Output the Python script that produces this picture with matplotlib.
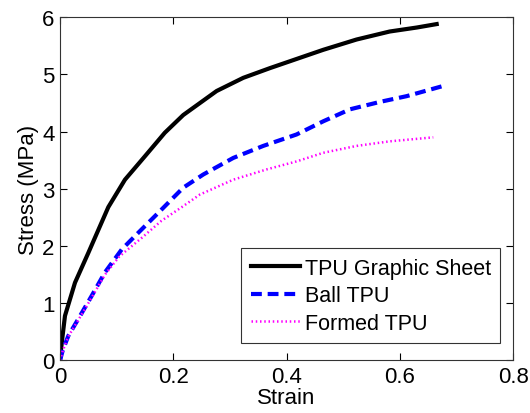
import matplotlib
matplotlib.use("Agg")
import matplotlib.pyplot as plt

plt.rcParams['font.family'] = ['Liberation Sans', 'DejaVu Sans']

sheet_strain = [0, 0.003, 0.0088, 0.0265, 0.050, 0.0588, 0.0853, 0.1147, 0.150, 0.185, 0.2176,
                0.2765, 0.3235, 0.3706, 0.4235, 0.4647, 0.5235, 0.582, 0.630, 0.665]
sheet_stress = [0, 0.30, 0.78, 1.36, 1.88, 2.08, 2.68, 3.16, 3.57, 3.98, 4.29,
                4.71, 4.94, 5.11, 5.29, 5.43, 5.61, 5.75, 5.82, 5.88]

ball_strain = [0, 0.005, 0.0147, 0.032, 0.056, 0.0794, 0.109, 0.138, 0.1735, 0.2176, 0.2529,
               0.3059, 0.3588, 0.4176, 0.4647, 0.512, 0.565, 0.612, 0.6735]
ball_stress = [0, 0.18, 0.43, 0.72, 1.13, 1.54, 1.94, 2.23, 2.58, 3.02, 3.25,
               3.54, 3.75, 3.95, 4.18, 4.39, 4.52, 4.62, 4.79]

formed_strain = [0, 0.005, 0.0147, 0.032, 0.056, 0.0794, 0.105, 0.144, 0.179, 0.215, 0.247,
                 0.306, 0.365, 0.418, 0.4647, 0.5235, 0.582, 0.659]
formed_stress = [0, 0.17, 0.42, 0.70, 1.10, 1.50, 1.82, 2.14, 2.44, 2.68, 2.90,
                 3.16, 3.34, 3.48, 3.63, 3.75, 3.83, 3.90]

labels = ['TPU Graphic Sheet', 'Ball TPU', 'Formed TPU']
xticks = [0, 0.2, 0.4, 0.6, 0.8]
yticks = [0, 1, 2, 3, 4, 5, 6]

fig = plt.figure(figsize=(5.3, 4.14), dpi=100)
ax = fig.add_axes([0.1132, 0.127, 0.855, 0.829])

ax.plot(sheet_strain, sheet_stress, color='black', lw=3.0, label=labels[0])
ax.plot(ball_strain, ball_stress, color='#0000ff', lw=3.0, ls=(0, (2.6, 1.4)), label=labels[1])
ax.plot(formed_strain, formed_stress, color='#ff00ff', lw=1.8, ls=(0, (0.6, 1.1)), label=labels[2])

ax.set_xlim(0, 0.8)
ax.set_ylim(0, 6)
ax.set_xticks(xticks)
ax.set_xticklabels(['0', '0.2', '0.4', '0.6', '0.8'])
ax.set_yticks(yticks)
ax.tick_params(direction='in', top=True, right=True, labelsize=16, length=5, width=0.8, pad=4)
for s in ax.spines.values():
    s.set_linewidth(0.8)
    s.set_color('#333333')

ax.set_xlabel('Strain', fontsize=16, labelpad=0)
ax.set_ylabel('Stress (MPa)', fontsize=16, labelpad=2)

leg = ax.legend(loc='lower right', bbox_to_anchor=(0.972, 0.05), fontsize=15.5, frameon=True,
                fancybox=False, edgecolor='black', handlelength=2.3, handletextpad=0.2,
                borderpad=0.45, labelspacing=0.3, borderaxespad=0)
leg.get_frame().set_linewidth(0.8)

fig.savefig('out.png', dpi=100)
